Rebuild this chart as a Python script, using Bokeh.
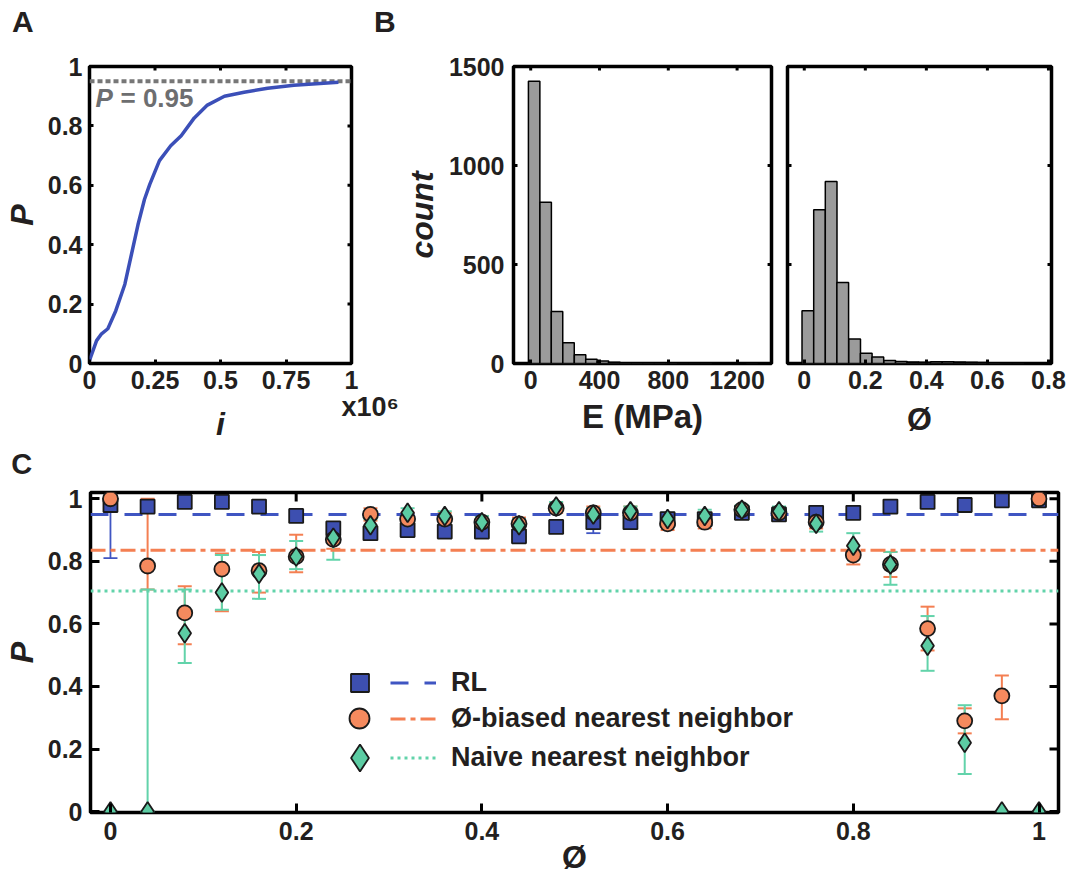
import json
from bokeh.plotting import figure
from bokeh.models import (Range1d, LinearAxis, FixedTicker, Label, Legend, LegendItem,
                          Whisker, TeeHead, ColumnDataSource, CustomJSTickFormatter)
from bokeh.layouts import column, row
from bokeh.embed import file_html
from bokeh.resources import INLINE

FONT = "Liberation Sans"
TXT = "#231f20"
NB = "\u00a0"

# ---------------- Panel A data ----------------
iter_a = [0.0, 0.027, 0.046, 0.07, 0.10, 0.135, 0.16, 0.185, 0.21, 0.23, 0.267, 0.31,
          0.35, 0.40, 0.45, 0.515, 0.59, 0.68, 0.78, 0.88, 0.95]
prob_a = [0.01, 0.077, 0.10, 0.117, 0.177, 0.267, 0.367, 0.467, 0.553, 0.603, 0.683, 0.733,
          0.767, 0.827, 0.87, 0.90, 0.913, 0.927, 0.937, 0.943, 0.947]
p_target = 0.95
a_xticks = [0, 0.25, 0.5, 0.75, 1]
a_xlabels = ["0", "0.25", "0.5", "0.75", "1"]
a_yticks = [0, 0.2, 0.4, 0.6, 0.8, 1]
a_ylabels = ["0", "0.2", "0.4", "0.6", "0.8", "1"]
a_scale_tick = [1]
a_scale_label = [NB * 5 + "x10\u2076"]
# panel letters, placed at the left and right edges of the top row
letter_ticks_ab = [0, 1]
letter_labels_ab = ["A" + NB * 16, NB * 8 + "B"]
letter_ticks_c = [0]
letter_labels_c = ["C" + NB * 22]

# ---------------- Panel B data ----------------
e_centers = [20, 87, 153, 220, 287, 353, 420, 487, 553, 620, 687, 753, 820, 887, 953,
             1020, 1087, 1153, 1220, 1287]
e_counts = [1425, 815, 262, 105, 44, 22, 12, 6, 4, 3, 3, 2, 2, 1, 1, 1, 0, 0, 0, 1]
e_width = 66.6
phi_centers = [0.0117, 0.050, 0.088, 0.126, 0.165, 0.203, 0.241, 0.280, 0.318, 0.356,
               0.394, 0.433, 0.471, 0.509, 0.548, 0.586, 0.624, 0.662, 0.701, 0.739]
phi_counts = [266, 776, 919, 409, 124, 52, 33, 15, 10, 8, 6, 9, 9, 7, 6, 5, 3, 1, 1, 0]
phi_width = 0.0383
b1_xticks = [0, 400, 800, 1200]
b1_xlabels = ["0", "400", "800", "1200"]
b_yticks = [0, 500, 1000, 1500]
b_ylabels = ["0", "500", "1000", "1500"]
b2_xticks = [0, 0.2, 0.4, 0.6, 0.8]
b2_xlabels = ["0", "0.2", "0.4", "0.6", "0.8"]

# ---------------- Panel C data ----------------
phi_c = [0.00, 0.04, 0.08, 0.12, 0.16, 0.20, 0.24, 0.28, 0.32, 0.36, 0.40, 0.44, 0.48,
         0.52, 0.56, 0.60, 0.64, 0.68, 0.72, 0.76, 0.80, 0.84, 0.88, 0.92, 0.96, 1.00]
rl_p = [0.980, 0.975, 0.990, 0.990, 0.975, 0.945, 0.905, 0.890, 0.900, 0.895, 0.895, 0.880, 0.910,
        0.925, 0.925, 0.935, 0.935, 0.955, 0.950, 0.955, 0.955, 0.975, 0.990, 0.980, 0.995, 0.995]
rl_lo = [0.810, 0.965, 0.985, 0.985, 0.965, 0.935, 0.890, 0.875, 0.885, 0.880, 0.880, 0.865, 0.890,
         0.890, 0.905, 0.915, 0.915, 0.945, 0.935, 0.935, 0.935, 0.965, 0.985, 0.970, 0.990, 0.990]
rl_hi = [1.000, 0.985, 0.995, 0.995, 0.985, 0.955, 0.920, 0.905, 0.915, 0.910, 0.910, 0.895, 0.930,
         0.960, 0.945, 0.955, 0.955, 0.965, 0.965, 0.975, 0.975, 0.985, 0.995, 0.990, 1.000, 1.000]
bias_p = [1.000, 0.785, 0.635, 0.775, 0.770, 0.815, 0.870, 0.950, 0.935, 0.935, 0.925, 0.920, 0.970,
          0.955, 0.955, 0.920, 0.925, 0.965, 0.955, 0.925, 0.820, 0.790, 0.585, 0.290, 0.370, 1.000]
bias_lo = [1.000, 0.710, 0.535, 0.640, 0.700, 0.765, 0.840, 0.930, 0.915, 0.915, 0.905, 0.900, 0.955,
           0.935, 0.935, 0.900, 0.905, 0.950, 0.940, 0.905, 0.790, 0.750, 0.515, 0.250, 0.295, 1.000]
bias_hi = [1.000, 1.000, 0.720, 0.825, 0.830, 0.885, 0.900, 0.970, 0.955, 0.955, 0.945, 0.940, 0.985,
           0.975, 0.975, 0.940, 0.945, 0.980, 0.970, 0.945, 0.850, 0.830, 0.655, 0.330, 0.435, 1.000]
naive_p = [0.000, 0.000, 0.570, 0.700, 0.760, 0.815, 0.875, 0.915, 0.955, 0.945, 0.925, 0.915, 0.975,
           0.950, 0.960, 0.935, 0.945, 0.965, 0.960, 0.920, 0.850, 0.790, 0.530, 0.220, 0.000, 0.000]
naive_lo = [0.000, 0.000, 0.475, 0.645, 0.680, 0.775, 0.805, 0.895, 0.940, 0.930, 0.905, 0.895, 0.960,
            0.930, 0.945, 0.915, 0.925, 0.950, 0.945, 0.895, 0.810, 0.725, 0.450, 0.120, 0.000, 0.000]
naive_hi = [0.000, 0.710, 0.710, 0.820, 0.820, 0.865, 0.910, 0.935, 0.970, 0.960, 0.945, 0.935, 0.990,
            0.970, 0.975, 0.955, 0.965, 0.980, 0.975, 0.945, 0.890, 0.830, 0.625, 0.340, 0.000, 0.000]
rl_mean = 0.95
bias_mean = 0.835
naive_mean = 0.705
c_ticks = [0, 0.2, 0.4, 0.6, 0.8, 1]
c_labels = ["0", "0.2", "0.4", "0.6", "0.8", "1"]
series_names = ["RL", "Ø-biased nearest neighbor", "Naive nearest neighbor"]

BLUE = "#3d4fb0"
BLUE_L = "#3f55c2"
ORANGE = "#f58a5e"
ORANGE_L = "#f47f52"
GREEN = "#5ccca3"
GREEN_L = "#62d3aa"


def make_fig(width, height, left, right, top, bottom, xr, yr):
    p = figure(width=width, height=height, x_range=Range1d(*xr), y_range=Range1d(*yr),
               output_backend="svg", toolbar_location=None,
               min_border_left=left, min_border_right=right,
               min_border_top=top, min_border_bottom=bottom,
               x_axis_location=None, y_axis_location=None)
    p.grid.visible = False
    p.outline_line_color = "black"
    p.outline_line_width = 3.5
    p.outline_line_alpha = 1.0
    p.background_fill_color = "white"
    p.border_fill_color = "white"
    return p


def fmt(ticks, labels):
    code = ("const t = %s; const l = %s;"
            "for (let i = 0; i < t.length; i++) { if (Math.abs(t[i] - tick) < 1e-9) return l[i]; }"
            "return '';") % (json.dumps(ticks), json.dumps(labels))
    return CustomJSTickFormatter(code=code)


def axis(p, side, ticks, labels, tick_len, standoff, fsize=25, title=None, title_size=32,
         title_style="bold italic", title_standoff=0, show_ticks=True):
    ax = LinearAxis(ticker=FixedTicker(ticks=ticks), formatter=fmt(ticks, labels))
    ax.axis_line_color = None
    ax.major_tick_in = tick_len if show_ticks else 0
    ax.major_tick_out = 0
    ax.major_tick_line_width = 3
    ax.major_tick_line_color = "black" if show_ticks else None
    ax.minor_tick_line_color = None
    ax.major_label_text_font = FONT
    ax.major_label_text_font_size = f"{fsize}px"
    ax.major_label_text_font_style = "bold"
    ax.major_label_text_color = TXT
    ax.major_label_standoff = standoff
    if title is not None:
        ax.axis_label = title
        ax.axis_label_text_font = FONT
        ax.axis_label_text_font_size = f"{title_size}px"
        ax.axis_label_text_font_style = title_style
        ax.axis_label_text_color = TXT
        ax.axis_label_standoff = title_standoff
    p.add_layout(ax, side)
    return ax


def mirror_ticks(p, xr, yr, xt, yt, fw, fh, tlen, left=False):
    dy = tlen / fh * (yr[1] - yr[0])
    dx = tlen / fw * (xr[1] - xr[0])
    p.segment(x0=xt, y0=[yr[1]] * len(xt), x1=xt, y1=[yr[1] - dy] * len(xt),
              line_color="black", line_width=3)
    p.segment(x0=[xr[1]] * len(yt), y0=yt, x1=[xr[1] - dx] * len(yt), y1=yt,
              line_color="black", line_width=3)
    if left:
        p.segment(x0=[xr[0]] * len(yt), y0=yt, x1=[xr[0] + dx] * len(yt), y1=yt,
                  line_color="black", line_width=3)


# ---------------- Panel A ----------------
ax_r, ay_r = (0, 1), (0, 1)
pA = make_fig(400, 444, 89, 49, 63, 81, ax_r, ay_r)
axis(pA, "below", a_xticks, a_xlabels, 4, 7)
axis(pA, "below", a_scale_tick, a_scale_label, 0, 0, fsize=27, title="i",
     title_standoff=-19, show_ticks=False)
axis(pA, "left", a_yticks, a_ylabels, 4, 7, title="P", title_standoff=5)
axis(pA, "above", letter_ticks_ab, letter_labels_ab, 0, 29, fsize=30, show_ticks=False)
mirror_ticks(pA, ax_r, ay_r, a_xticks, a_yticks, 262, 300, 4)
pA.line([a_xticks[0], a_xticks[-1]], [p_target, p_target], line_color="#777777",
        line_width=4, line_dash="5 3")
pA.line(iter_a, prob_a, line_color="#3b4fb8", line_width=3.5)
pA.add_layout(Label(x=6, y=266, x_units="screen", y_units="screen", text="P",
                    text_font=FONT, text_font_size="26px", text_font_style="bold italic",
                    text_color="#6d6e70", text_baseline="middle"))
pA.add_layout(Label(x=31, y=266, x_units="screen", y_units="screen", text="= 0.95",
                    text_font=FONT, text_font_size="26px", text_font_style="bold",
                    text_color="#6d6e70", text_baseline="middle"))

# ---------------- Panel B1 ----------------
b1x_r, b_y_r = (-100, 1400), (0, 1500)
pB1 = make_fig(379, 444, 108, 8, 66, 81, b1x_r, b_y_r)
axis(pB1, "below", b1_xticks, b1_xlabels, 4, 7, title="E (MPa)", title_style="bold",
     title_size=33, title_standoff=6)
axis(pB1, "left", b_yticks, b_ylabels, 4, 9, title="count", title_standoff=6)
mirror_ticks(pB1, b1x_r, b_y_r, b1_xticks, b_yticks, 263, 297, 4)
pB1.vbar(x=e_centers, top=e_counts, width=e_width, bottom=0, fill_color="#9b9b9b",
         line_color="black", line_width=1.5)

# ---------------- Panel B2 ----------------
b2x_r = (-0.055, 0.81)
pB2 = make_fig(289, 444, 8, 17, 66, 81, b2x_r, b_y_r)
axis(pB2, "below", b2_xticks, b2_xlabels, 4, 7, title="Ø", title_style="bold",
     title_standoff=9)
mirror_ticks(pB2, b2x_r, b_y_r, b2_xticks, b_yticks, 264, 297, 4, left=True)
pB2.vbar(x=phi_centers, top=phi_counts, width=phi_width, bottom=0, fill_color="#9b9b9b",
         line_color="black", line_width=1.5)

# ---------------- Panel C ----------------
cx = (-0.0215, 1.021)
cy = (-0.003, 1.02)
pC = make_fig(1068, 436, 90, 10, 46, 68, cx, cy)
axis(pC, "below", c_ticks, c_labels, 9, 9, title="Ø", title_style="bold", title_standoff=-4)
axis(pC, "left", c_ticks, c_labels, 9, 8, title="P", title_standoff=5)
axis(pC, "above", letter_ticks_c, letter_labels_c, 0, 13, fsize=29, show_ticks=False)
mirror_ticks(pC, cx, cy, c_ticks, c_ticks, 968, 322, 9)

l_rl = pC.line([cx[0], cx[1]], [rl_mean, rl_mean], line_color=BLUE_L, line_width=3,
               line_dash="18 16")
l_bias = pC.line([cx[0], cx[1]], [bias_mean, bias_mean], line_color=ORANGE_L, line_width=3,
                 line_dash="15 5 5 5")
l_naive = pC.line([cx[0], cx[1]], [naive_mean, naive_mean], line_color=GREEN_L, line_width=3,
                  line_dash="3 4")


def whisk(p, x, lo, hi, color, width):
    idx = [i for i in range(len(x)) if hi[i] > lo[i]]
    src = ColumnDataSource(dict(x=[x[i] for i in idx], lo=[lo[i] for i in idx],
                                hi=[hi[i] for i in idx]))
    w = Whisker(source=src, base="x", lower="lo", upper="hi", line_color=color,
                line_width=width, level="underlay",
                upper_head=TeeHead(size=14, line_color=color, line_width=width),
                lower_head=TeeHead(size=14, line_color=color, line_width=width))
    p.add_layout(w)


whisk(pC, phi_c, rl_lo, rl_hi, BLUE_L, 1.8)
whisk(pC, phi_c, bias_lo, bias_hi, ORANGE_L, 2)
whisk(pC, phi_c, naive_lo, naive_hi, GREEN_L, 2)

r_sq = pC.scatter(phi_c, rl_p, marker="square", size=14, fill_color=BLUE,
                  line_color="#1a1a1a", line_width=1.8)
r_ci = pC.scatter(phi_c, bias_p, marker="circle", size=15, fill_color=ORANGE,
                  line_color="#1a1a1a", line_width=1.8)
r_di = pC.scatter(phi_c, naive_p, marker="diamond", size=19, fill_color=GREEN,
                  line_color="#1a1a1a", line_width=1.8)

row_y = [130, 94, 55]
marker_box = [45, 50, 67]
for rend, box, line_r, name, yc in zip([r_sq, r_ci, r_di], marker_box,
                                        [l_rl, l_bias, l_naive], series_names, row_y):
    lg1 = Legend(items=[LegendItem(label=" ", renderers=[rend])],
                 location=(269 - box / 2, yc - box / 2), glyph_width=box, glyph_height=box,
                 padding=0, margin=0, spacing=0, label_standoff=0, label_width=0,
                 label_height=0, label_text_font_size="1px", border_line_color=None,
                 background_fill_alpha=0)
    pC.add_layout(lg1)
    lg2 = Legend(items=[LegendItem(label=name, renderers=[line_r])],
                 location=(300, yc - 18.5), glyph_width=46, glyph_height=37,
                 padding=0, margin=0, spacing=0, label_standoff=15,
                 label_text_font=FONT, label_text_font_size="27px",
                 label_text_font_style="bold", label_text_color=TXT,
                 border_line_color=None, background_fill_alpha=0)
    pC.add_layout(lg2)

layout = column(row(pA, pB1, pB2), pC)
open("out.html", "w").write(file_html(layout, INLINE))
